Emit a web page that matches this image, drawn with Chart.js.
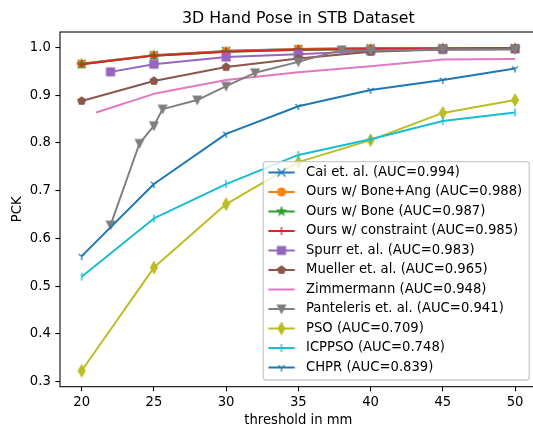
<!DOCTYPE html>
<html>
<head>
<meta charset="utf-8">
<script src="https://cdn.jsdelivr.net/npm/chart.js@4.4.1/dist/chart.umd.min.js"></script>
<style>
html,body{margin:0;padding:0;background:#fff;overflow:hidden;}
#wrap{width:545px;height:427px;}
</style>
</head>
<body>
<div id="wrap"><canvas id="c" width="545" height="427"></canvas></div>
<script>
// ---------------- data ----------------
const thresholds = [20, 25, 30, 35, 40, 45, 50];
const caiPCK        = [0.966, 0.984, 0.993, 0.997, 0.999, 0.999, 0.999];
const boneAngPCK    = [0.966, 0.984, 0.992, 0.997, 0.998, 0.999, 0.999];
const bonePCK       = [0.965, 0.983, 0.991, 0.995, 0.997, 0.998, 0.999];
const constraintPCK = [0.965, 0.983, 0.991, 0.996, 0.997, 0.998, 0.999];
const spurrX   = [22, 25, 30, 35, 40, 45, 50];
const spurrPCK = [0.949, 0.965, 0.980, 0.986, 0.993, 0.996, 0.997];
const muellerPCK = [0.888, 0.930, 0.959, 0.977, 0.991, 0.996, 0.997];
const zimmX   = [21, 25, 30, 35, 40, 45, 50];
const zimmPCK = [0.864, 0.903, 0.932, 0.948, 0.961, 0.975, 0.976];
const pantX   = [22, 24, 25, 25.6, 28, 30, 32, 35, 38, 40, 45, 50];
const pantPCK = [0.628, 0.799, 0.836, 0.871, 0.890, 0.919, 0.947, 0.970, 0.995, 0.993, 0.996, 0.996];
const psoPCK    = [0.323, 0.539, 0.672, 0.760, 0.806, 0.863, 0.890];
const icppsoPCK = [0.520, 0.642, 0.714, 0.775, 0.808, 0.846, 0.864];
const chprPCK   = [0.563, 0.714, 0.819, 0.877, 0.911, 0.932, 0.956];

const seriesLabels = [
  'Cai et. al. (AUC=0.994)',
  'Ours w/ Bone+Ang (AUC=0.988)',
  'Ours w/ Bone (AUC=0.987)',
  'Ours w/ constraint (AUC=0.985)',
  'Spurr et. al. (AUC=0.983)',
  'Mueller et. al. (AUC=0.965)',
  'Zimmermann (AUC=0.948)',
  'Panteleris et. al. (AUC=0.941)',
  'PSO (AUC=0.709)',
  'ICPPSO (AUC=0.748)',
  'CHPR (AUC=0.839)'
];
const seriesX = [thresholds, thresholds, thresholds, thresholds, spurrX, thresholds, zimmX, pantX, thresholds, thresholds, thresholds];
const seriesY = [caiPCK, boneAngPCK, bonePCK, constraintPCK, spurrPCK, muellerPCK, zimmPCK, pantPCK, psoPCK, icppsoPCK, chprPCK];
const seriesColors = ['#1f77b4','#ff7f0e','#2ca02c','#d62728','#9467bd','#8c564b','#e377c2','#7f7f7f','#bcbd22','#17becf','#1f77b4'];
const seriesMarkers = ['x','o','*','+','s','p','none','v','d','|','1'];

const xTicks = [20, 25, 30, 35, 40, 45, 50];
const yTicks = [0.3, 0.4, 0.5, 0.6, 0.7, 0.8, 0.9, 1.0];

// ---------------- style ----------------
const FONT = "'DejaVu Sans', sans-serif";
const S = 1.32;           // px per pt
const MS = 6 * S;         // marker size
const EW = 1.0 * S;       // marker edge width
const LW = 1.5 * S;       // line width

function drawMarker(ctx, type, color, cx, cy) {
  const r = MS / 2;
  ctx.save();
  ctx.strokeStyle = color; ctx.fillStyle = color; ctx.lineWidth = EW;
  ctx.lineJoin = 'miter'; ctx.lineCap = 'butt';
  ctx.beginPath();
  let filled = true;
  switch (type) {
    case 'x':
      filled = false;
      ctx.moveTo(cx - r, cy - r); ctx.lineTo(cx + r, cy + r);
      ctx.moveTo(cx - r, cy + r); ctx.lineTo(cx + r, cy - r); break;
    case '+':
      filled = false;
      ctx.moveTo(cx - r, cy); ctx.lineTo(cx + r, cy);
      ctx.moveTo(cx, cy - r); ctx.lineTo(cx, cy + r); break;
    case '|':
      filled = false;
      ctx.moveTo(cx, cy - r); ctx.lineTo(cx, cy + r); break;
    case '1':
      filled = false;
      ctx.moveTo(cx, cy); ctx.lineTo(cx, cy + r);
      ctx.moveTo(cx, cy); ctx.lineTo(cx + 0.8 * r, cy - 0.5 * r);
      ctx.moveTo(cx, cy); ctx.lineTo(cx - 0.8 * r, cy - 0.5 * r); break;
    case 'o':
      ctx.arc(cx, cy, r, 0, Math.PI * 2); break;
    case 's':
      ctx.rect(cx - r, cy - r, 2 * r, 2 * r); break;
    case 'p':
      for (let k = 0; k < 5; k++) {
        const a = -Math.PI / 2 + k * 2 * Math.PI / 5;
        const px = cx + r * Math.cos(a), py = cy + r * Math.sin(a);
        k ? ctx.lineTo(px, py) : ctx.moveTo(px, py);
      }
      ctx.closePath(); break;
    case '*':
      for (let k = 0; k < 10; k++) {
        const a = -Math.PI / 2 + k * Math.PI / 5;
        const rr = (k % 2) ? r * 0.381966 : r;
        const px = cx + rr * Math.cos(a), py = cy + rr * Math.sin(a);
        k ? ctx.lineTo(px, py) : ctx.moveTo(px, py);
      }
      ctx.closePath(); break;
    case 'v':
      ctx.moveTo(cx, cy + r); ctx.lineTo(cx - r, cy - r); ctx.lineTo(cx + r, cy - r);
      ctx.closePath(); break;
    case 'd': {
      const h = r * Math.SQRT2, w = 0.6 * h;
      ctx.moveTo(cx, cy - h); ctx.lineTo(cx + w, cy); ctx.lineTo(cx, cy + h); ctx.lineTo(cx - w, cy);
      ctx.closePath(); break;
    }
  }
  if (filled) ctx.fill();
  ctx.stroke();
  ctx.restore();
}

function makeMarkerImage(type, color) {
  const c = document.createElement('canvas');
  c.width = 18; c.height = 18;
  drawMarker(c.getContext('2d'), type, color, 9, 9);
  return c;
}

function makeLegendHandle(type, color) {
  const c = document.createElement('canvas');
  c.width = 28; c.height = 16;
  const ctx = c.getContext('2d');
  ctx.strokeStyle = color; ctx.lineWidth = LW;
  ctx.beginPath(); ctx.moveTo(0.8, 8); ctx.lineTo(27.2, 8); ctx.stroke();
  if (type !== 'none') drawMarker(ctx, type, color, 14, 8);
  return c;
}

const N = seriesLabels.length;
const legendHandles = seriesLabels.map((_, i) => makeLegendHandle(seriesMarkers[i], seriesColors[i]));

const datasets = seriesLabels.map((label, i) => ({
  label,
  data: seriesX[i].map((x, j) => ({ x, y: seriesY[i][j] })),
  borderColor: seriesColors[i],
  backgroundColor: seriesColors[i],
  borderWidth: LW,
  borderJoinStyle: 'round',
  borderCapStyle: 'butt',
  pointStyle: seriesMarkers[i] === 'none' ? false : makeMarkerImage(seriesMarkers[i], seriesColors[i]),
  pointRadius: seriesMarkers[i] === 'none' ? 0 : 4,
  pointHoverRadius: seriesMarkers[i] === 'none' ? 0 : 4,
  tension: 0,
  fill: false,
  order: N - i
}));

// ---------------- layout plugin ----------------
const mplPlugin = {
  id: 'mplLayout',
  beforeLayout(chart) {
    const lg = chart.legend;
    if (lg && !lg._mplLayered) {
      lg._mplLayered = true;
      lg._layers = function () { return [{ z: 10, draw() { lg.draw(); } }]; };
    }
  },
  afterLayout(chart) {
    const ca = chart.chartArea;
    const tb = chart.titleBlock;
    if (tb) { tb.left = ca.left; tb.right = ca.right; tb.width = ca.right - ca.left; }
    const lg = chart.legend;
    if (lg) {
      const frameLeft = ca.right - 7.4 - 266;
      const frameTop = ca.bottom - 6.7 - 218.3;
      lg.left = frameLeft - 6;
      lg.top = frameTop - 2.1;
      lg.right = chart.width;
      lg.bottom = chart.height;
      lg.width = lg.right - lg.left;
      lg.height = lg.bottom - lg.top;
    }
  },
  afterDatasetsDraw(chart) {
    const ctx = chart.ctx, ca = chart.chartArea;
    ctx.save();
    ctx.strokeStyle = '#000';
    ctx.lineWidth = 0.8 * S;
    ctx.strokeRect(ca.left, ca.top, ca.right - ca.left, ca.bottom - ca.top);
    // legend frame
    const fr = ca.right - 7.4, fb = ca.bottom - 6.7;
    const fl = fr - 266, ft = fb - 218.3, rad = 2.64;
    ctx.beginPath();
    ctx.moveTo(fl + rad, ft);
    ctx.lineTo(fr - rad, ft); ctx.arcTo(fr, ft, fr, ft + rad, rad);
    ctx.lineTo(fr, fb - rad); ctx.arcTo(fr, fb, fr - rad, fb, rad);
    ctx.lineTo(fl + rad, fb); ctx.arcTo(fl, fb, fl, fb - rad, rad);
    ctx.lineTo(fl, ft + rad); ctx.arcTo(fl, ft, fl + rad, ft, rad);
    ctx.closePath();
    ctx.fillStyle = 'rgba(255,255,255,0.8)';
    ctx.fill();
    ctx.strokeStyle = '#cccccc';
    ctx.lineWidth = 1.0 * S;
    ctx.stroke();
    ctx.restore();
  }
};

const tickFont = { family: FONT, size: 13.2 };

new Chart(document.getElementById('c'), {
  type: 'line',
  data: { datasets },
  plugins: [mplPlugin],
  options: {
    responsive: false,
    animation: false,
    events: [],
    layout: { padding: { left: 0, right: 8.3, top: 0, bottom: 0 } },
    plugins: {
      title: {
        display: true,
        text: '3D Hand Pose in STB Dataset',
        color: '#000',
        font: { family: FONT, size: 15.84, weight: 'normal', lineHeight: 1.2 },
        padding: { top: 9, bottom: 4 }
      },
      legend: {
        display: true,
        position: 'chartArea',
        fullSize: false,
        align: 'start',
        labels: {
          usePointStyle: true,
          pointStyleWidth: 35.8,
          padding: 6.3,
          color: '#000',
          font: { family: FONT, size: 13.2 },
          generateLabels: () => seriesLabels.map((t, i) => ({
            text: t,
            pointStyle: legendHandles[i],
            fontColor: '#000',
            hidden: false,
            datasetIndex: i,
            lineWidth: 0,
            fillStyle: 'rgba(0,0,0,0)',
            strokeStyle: 'rgba(0,0,0,0)'
          }))
        }
      },
      tooltip: { enabled: false }
    },
    scales: {
      x: {
        type: 'linear',
        min: 18.5,
        max: 51.5,
        afterBuildTicks: (s) => { s.ticks = xTicks.map(v => ({ value: v })); },
        afterFit: (s) => { s.height = 40.3; },
        ticks: {
          color: '#000', font: tickFont, padding: 3.5,
          autoSkip: false, maxRotation: 0, minRotation: 0,
          callback: (v) => String(v)
        },
        grid: { display: true, drawOnChartArea: false, drawTicks: true, tickLength: 4.6, color: '#000', lineWidth: 0.8 * S },
        border: { display: false },
        title: {
          display: true, text: 'threshold in mm', color: '#000',
          font: { family: FONT, size: 13.2, lineHeight: 0.9 },
          padding: { top: 0, bottom: 0 }
        }
      },
      y: {
        type: 'linear',
        min: 0.2895,
        max: 1.0325,
        afterBuildTicks: (s) => { s.ticks = yTicks.map(v => ({ value: v })); },
        afterFit: (s) => { s.width = 60; },
        ticks: {
          color: '#000', font: tickFont, padding: 4.6,
          autoSkip: false,
          callback: (v) => Number(v).toFixed(1)
        },
        grid: { display: true, drawOnChartArea: false, drawTicks: true, tickLength: 4.6, color: '#000', lineWidth: 0.8 * S },
        border: { display: false },
        title: {
          display: true, text: 'PCK', color: '#000',
          font: { family: FONT, size: 13.2, lineHeight: 1.2 },
          padding: { top: 10, bottom: 0 }
        }
      }
    }
  }
});
</script>
</body>
</html>
